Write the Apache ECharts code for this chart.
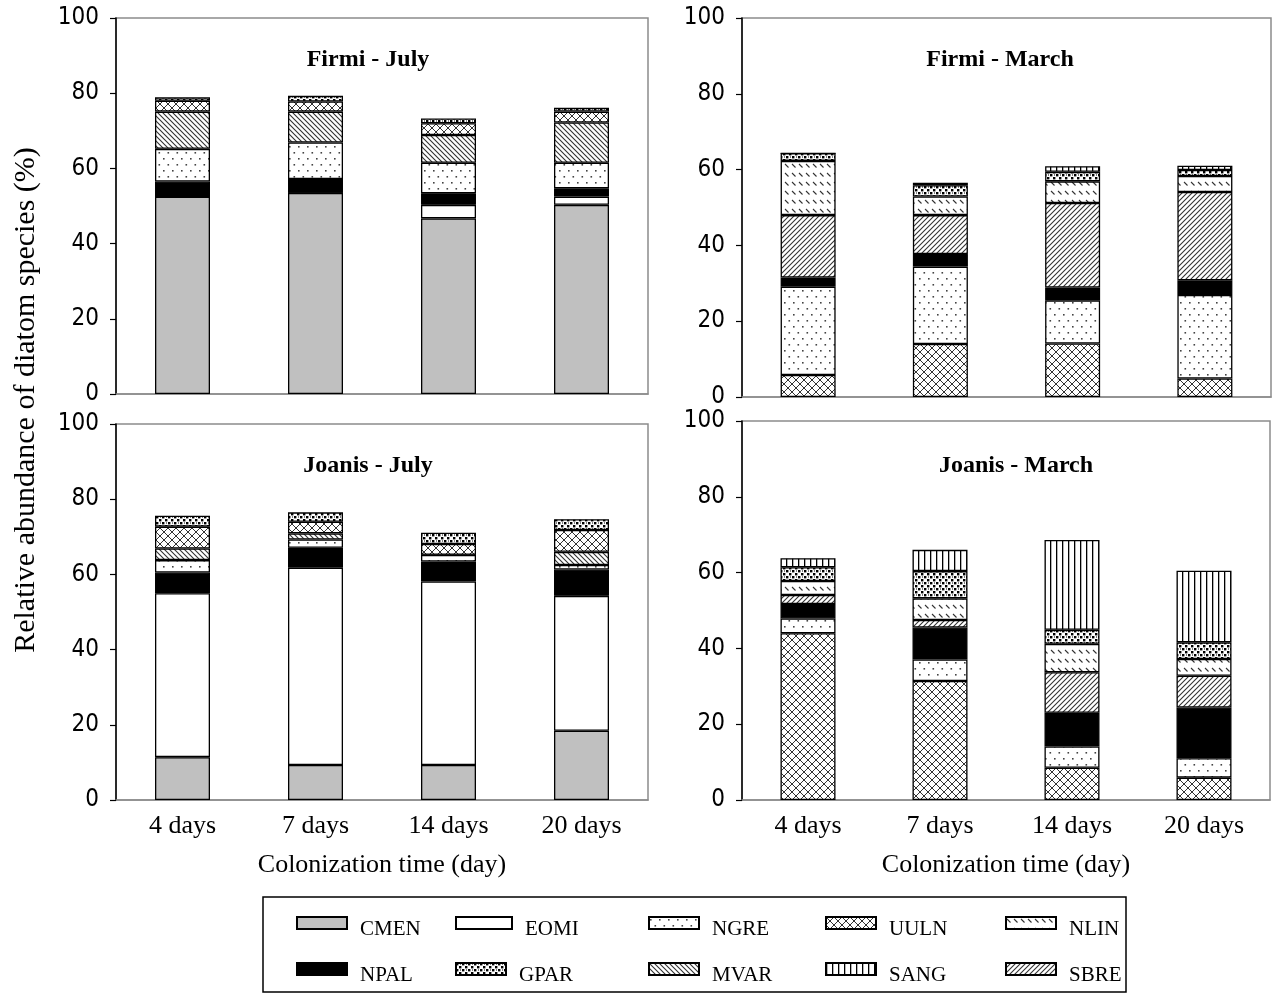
<!DOCTYPE html>
<html>
<head>
<meta charset="utf-8">
<script src="https://cdn.jsdelivr.net/npm/echarts@6/dist/echarts.min.js"></script>
<style>
html,body{margin:0;padding:0;background:#fff;}
#chart{width:1279px;height:994px;}
</style>
</head>
<body>
<div id="chart"></div>
<script>
// ---------------- DATA ----------------
const categories = ['4 days', '7 days', '14 days', '20 days'];
const yTicks = [0, 20, 40, 60, 80, 100];
const legendSpecies = ['CMEN', 'EOMI', 'NGRE', 'UULN', 'NLIN', 'NPAL', 'GPAR', 'MVAR', 'SANG', 'SBRE'];
const panelTitles = ['Firmi - July', 'Firmi - March', 'Joanis - July', 'Joanis - March'];

// stacking order (bottom -> top)
const julyOrder = ['CMEN', 'EOMI', 'NPAL', 'NGRE', 'MVAR', 'UULN', 'GPAR'];
const marchOrder = ['UULN', 'NGRE', 'NPAL', 'SBRE', 'NLIN', 'GPAR', 'SANG'];

// rows follow julyOrder / marchOrder, columns follow categories (%)
const firmiJuly = [
  [52.5, 53.5, 46.7, 50.3], // CMEN
  [0.0, 0.0, 3.6, 2.2],     // EOMI
  [4.0, 3.7, 3.1, 2.2],     // NPAL
  [8.7, 9.7, 8.1, 6.8],     // NGRE
  [9.9, 8.2, 7.4, 10.7],    // MVAR
  [2.9, 2.7, 3.1, 2.9],     // UULN
  [0.9, 1.5, 1.3, 1.0]      // GPAR
];
const firmiMarch = [
  [5.8, 14.0, 14.1, 4.9],   // UULN
  [23.3, 20.4, 11.4, 22.0], // NGRE
  [2.4, 3.3, 3.4, 3.9],     // NPAL
  [16.5, 10.3, 22.3, 23.3], // SBRE
  [14.3, 4.9, 5.7, 4.2],    // NLIN
  [2.0, 3.0, 2.5, 1.6],     // GPAR
  [0.0, 0.6, 1.5, 1.1]      // SANG
];
const joanisJuly = [
  [11.4, 9.3, 9.3, 18.4],   // CMEN
  [43.6, 52.5, 48.8, 35.9], // EOMI
  [5.5, 5.3, 5.3, 7.0],     // NPAL
  [3.3, 2.2, 1.8, 1.2],     // NGRE
  [3.1, 1.6, 0.0, 3.5],     // MVAR
  [5.8, 3.1, 2.9, 5.8],     // UULN
  [2.9, 2.5, 3.0, 2.9]      // GPAR
];
const joanisMarch = [
  [44.0, 31.4, 8.5, 5.9],   // UULN
  [3.9, 5.7, 5.6, 5.1],     // NGRE
  [3.8, 8.4, 8.9, 13.4],    // NPAL
  [2.4, 2.0, 10.7, 8.4],    // SBRE
  [3.7, 5.7, 7.5, 4.4],     // NLIN
  [3.6, 7.2, 3.7, 4.4],     // GPAR
  [2.4, 5.6, 23.7, 18.9]    // SANG
];

// ---------------- PATTERNS ----------------
function tile(w, h, draw) {
  const c = document.createElement('canvas');
  c.width = w; c.height = h;
  const ctx = c.getContext('2d');
  ctx.fillStyle = '#fff';
  ctx.fillRect(0, 0, w, h);
  draw(ctx, w, h);
  return { image: c, repeat: 'repeat' };
}
function diag(ctx, s, dir, color, lw) {
  ctx.strokeStyle = color; ctx.lineWidth = lw;
  ctx.beginPath();
  for (let k = -1; k <= 1; k++) {
    if (dir > 0) { // forward slash
      ctx.moveTo(k * s - 1, s + 1); ctx.lineTo(k * s + s + 1, -1);
    } else {       // backslash
      ctx.moveTo(k * s - 1, -1); ctx.lineTo(k * s + s + 1, s + 1);
    }
  }
  ctx.stroke();
}
const fills = {
  CMEN: '#c0c0c0',
  EOMI: '#ffffff',
  NPAL: '#000000',
  NGRE: tile(9, 12, (ctx) => {
    ctx.fillStyle = '#444';
    ctx.fillRect(1, 2, 1.6, 1.6);
    ctx.fillRect(5.5, 8, 1.6, 1.6);
  }),
  GPAR: tile(6, 6, (ctx) => {
    ctx.fillStyle = '#000';
    ctx.fillRect(0, 0, 2.4, 2.4);
    ctx.fillRect(3, 3, 2.4, 2.4);
    ctx.fillRect(4, 0.5, 1, 1);
  }),
  UULN: tile(8, 8, (ctx, w) => {
    diag(ctx, w, 1, '#333', 1);
    diag(ctx, w, -1, '#333', 1);
  }),
  MVAR: tile(5, 5, (ctx, w) => diag(ctx, w, -1, '#333', 1.1)),
  SBRE: tile(5, 5, (ctx, w) => diag(ctx, w, 1, '#333', 1.1)),
  SANG: tile(6, 4, (ctx) => {
    ctx.fillStyle = '#000';
    ctx.fillRect(0, 0, 1.3, 4);
  }),
  NLIN: tile(7, 9, (ctx) => {
    ctx.strokeStyle = '#333'; ctx.lineWidth = 1.1;
    ctx.beginPath();
    ctx.moveTo(1, 2); ctx.lineTo(4.5, 5.5);
    ctx.stroke();
  })
};

// ---------------- LAYOUT ----------------
const grids = [
  { left: 116, top: 18, width: 532, height: 376 },
  { left: 742, top: 18, width: 529, height: 379 },
  { left: 116, top: 424, width: 532, height: 376 },
  { left: 742, top: 421, width: 528, height: 379 }
];
const panelData = [firmiJuly, firmiMarch, joanisJuly, joanisMarch];
const panelOrder = [julyOrder, marchOrder, julyOrder, marchOrder];
const titlePos = [[368, 60], [1000, 60], [368, 466], [1016, 466]];

const serif = "'Liberation Serif', 'Times New Roman', serif";
const narrow = "'Liberation Sans Narrow', 'Arial Narrow', 'DejaVu Sans Condensed', 'Liberation Sans', sans-serif";

const xAxes = grids.map((g, i) => ({
  type: 'category', gridIndex: i, data: categories,
  axisLine: { lineStyle: { color: '#8c8c8c', width: 1.5 } },
  axisTick: { show: false },
  axisLabel: { show: i >= 2, color: '#000', fontFamily: serif, fontSize: 26, margin: 13 },
  name: i >= 2 ? 'Colonization time (day)' : '',
  nameLocation: 'middle', nameGap: 52,
  nameTextStyle: { color: '#000', fontFamily: serif, fontSize: 26 }
}));
const yAxes = grids.map((g, i) => ({
  type: 'value', gridIndex: i, min: 0, max: 100, interval: 20,
  axisLine: { show: true, lineStyle: { color: '#000', width: 1.5 } },
  axisTick: { show: true, length: 6, lineStyle: { color: '#000', width: 1.2 } },
  axisLabel: { color: '#000', fontFamily: narrow, fontSize: 24, margin: 17,
    formatter: (v) => yTicks.includes(v) ? String(v) : '' },
  splitLine: { show: false }
}));

const series = [];
panelData.forEach((rows, p) => {
  panelOrder[p].forEach((name, r) => {
    series.push({
      name: name, type: 'bar', stack: 'panel' + p,
      xAxisIndex: p, yAxisIndex: p,
      barWidth: 55,
      data: rows[r],
      itemStyle: { color: fills[name], borderColor: '#000', borderWidth: 1.3 },
      emphasis: { disabled: true },
      silent: true
    });
  });
});

// legend: 2 rows x 5 columns inside a framed box
const legendCols = [296, 455, 648, 825, 1005];
const legendRows = [916, 962];
const legends = legendSpecies.map((name, k) => ({
  data: [{ name: name, icon: 'rect' }],
  left: legendCols[k % 5],
  top: legendRows[Math.floor(k / 5)],
  itemWidth: name === 'EOMI' ? 56 : 50,
  itemHeight: 12,
  selectedMode: false,
  padding: 0,
  formatter: '{t|{name}}',
  textStyle: {
    color: '#000', fontFamily: serif, fontSize: 21,
    rich: { t: { color: '#000', fontFamily: serif, fontSize: 21, padding: [12, 0, 0, 8] } }
  }
}));

const graphics = [
  {
    type: 'rect', shape: { x: 263, y: 897, width: 863, height: 95 },
    style: { fill: 'none', stroke: '#000', lineWidth: 1.5 }, silent: true
  },
  {
    type: 'text', x: 26, y: 400, rotation: Math.PI / 2,
    style: { text: 'Relative abundance of diatom species (%)', font: '30px ' + serif,
      fill: '#000', textAlign: 'center', textVerticalAlign: 'middle' }
  }
].concat(panelTitles.map((t, i) => ({
  type: 'text', x: titlePos[i][0], y: titlePos[i][1],
  style: { text: t, font: 'bold 24px ' + serif, fill: '#000',
    textAlign: 'center', textVerticalAlign: 'middle' }
})));

const chart = echarts.init(document.getElementById('chart'));
chart.setOption({
  animation: false,
  backgroundColor: '#fff',
  grid: grids.map(g => Object.assign({ show: true, borderColor: '#8c8c8c', borderWidth: 1.5, containLabel: false }, g)),
  xAxis: xAxes,
  yAxis: yAxes,
  legend: legends,
  series: series,
  graphic: graphics
});
</script>
</body>
</html>
